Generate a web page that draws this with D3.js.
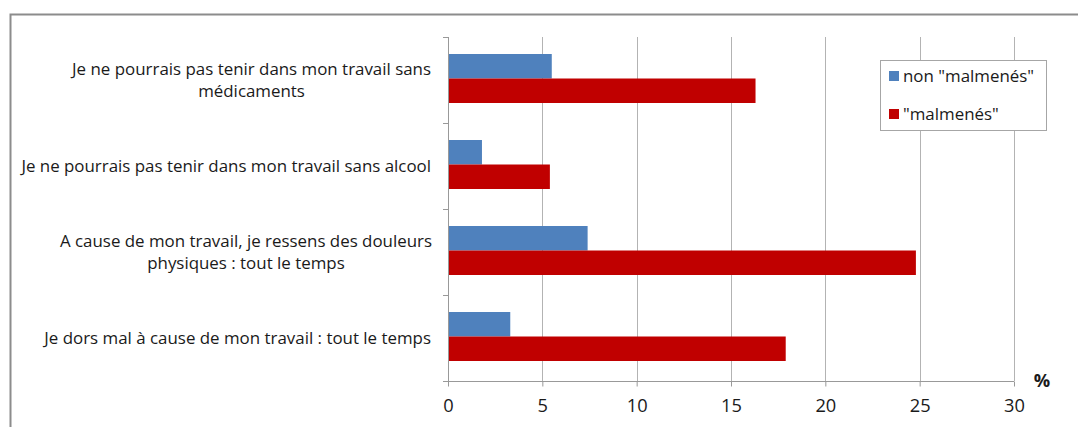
<!DOCTYPE html>
<html>
<head>
<meta charset="utf-8">
<script src="https://cdn.jsdelivr.net/npm/d3@7"></script>
<style>
  html, body { margin: 0; padding: 0; background: #fff; }
  svg { display: block; }
  text { font-family: "Open Sans", Lato, sans-serif; fill: #1a1a1a; }
</style>
</head>
<body>
<svg id="chart" width="1078" height="427"></svg>
<script>
// Categories, top to bottom
const categories = [
  ["Je ne pourrais pas tenir dans mon travail sans", "médicaments"],
  ["Je ne pourrais pas tenir dans mon travail sans alcool"],
  ["A cause de mon travail, je ressens des douleurs", "physiques : tout le temps"],
  ["Je dors mal à cause de mon travail : tout le temps"]
];
const seriesNames = ['non "malmenés"', '"malmenés"'];
const nonMalmenes = [5.5, 1.8, 7.4, 3.3];
const malmenes = [16.3, 5.4, 24.8, 17.9];
const xTicks = [0, 5, 10, 15, 20, 25, 30];
const colors = ["#4f81bd", "#c00000"];

const svg = d3.select("#chart");

// outer frame
svg.append("path")
  .attr("d", "M10.5,440 V14.5 H1078")
  .attr("fill", "none").attr("stroke", "#8c8c8c").attr("stroke-width", 2);

const plotLeft = 448, plotRight = 1014, plotTop = 37, plotBottom = 381;

const x = d3.scaleLinear().domain([0, 30]).range([plotLeft, plotRight]);
const y = d3.scaleBand().domain(d3.range(categories.length)).range([plotTop, plotBottom]);

// pick a font size so the longest one-line label spans ~410px
const probe = svg.append("text").attr("font-size", 20).text(categories[1][0]);
const fs = 20 * 410 / probe.node().getComputedTextLength();
probe.remove();

// vertical gridlines
svg.append("g").selectAll("line").data(xTicks.slice(1)).join("line")
  .attr("x1", d => Math.round(x(d)) + 0.5).attr("x2", d => Math.round(x(d)) + 0.5)
  .attr("y1", plotTop).attr("y2", plotBottom)
  .attr("stroke", "#b3b3b3").attr("stroke-width", 1);

// bars
const barH = 24.5;
const groups = svg.append("g").selectAll("g").data(categories.map((c, i) => i)).join("g");
groups.append("rect")
  .attr("x", x(0))
  .attr("y", i => y(i) + 17)
  .attr("width", i => x(nonMalmenes[i]) - x(0))
  .attr("height", barH)
  .attr("fill", colors[0]);
groups.append("rect")
  .attr("x", x(0))
  .attr("y", i => y(i) + 17 + barH)
  .attr("width", i => x(malmenes[i]) - x(0))
  .attr("height", barH)
  .attr("fill", colors[1]);

// x axis
const tickFs = fs * 1.08;
const xAxis = svg.append("g")
  .attr("transform", `translate(0,${plotBottom + 0.5})`)
  .call(d3.axisBottom(x).tickValues(xTicks).tickSize(5).tickPadding(13));
xAxis.select(".domain").attr("stroke", "#999").attr("d", `M${plotLeft},0H${plotRight}`);
xAxis.selectAll(".tick line").attr("stroke", "#999");
xAxis.selectAll(".tick text").attr("font-size", tickFs).attr("fill", "#1a1a1a")
  .style("font-family", "'Open Sans', Lato, sans-serif");

// y axis with category ticks at band boundaries
svg.append("line")
  .attr("x1", plotLeft + 0.5).attr("x2", plotLeft + 0.5)
  .attr("y1", plotTop).attr("y2", plotBottom)
  .attr("stroke", "#999");
svg.append("g").selectAll("line").data(d3.range(categories.length + 1)).join("line")
  .attr("x1", plotLeft - 5).attr("x2", plotLeft)
  .attr("y1", i => Math.round(plotTop + i * y.step()) + 0.5)
  .attr("y2", i => Math.round(plotTop + i * y.step()) + 0.5)
  .attr("stroke", "#999");

// category labels (centered lines, right aligned block)
categories.forEach((lines, i) => {
  const cy = y(i) + y.bandwidth() / 2;
  const lh = 22;
  const t = svg.append("text")
    .attr("font-size", fs)
    .attr("text-anchor", "middle");
  lines.forEach((ln, k) => {
    t.append("tspan").attr("x", 0)
      .attr("y", cy + (k - (lines.length - 1) / 2) * lh)
      .attr("dy", "0.35em").text(ln);
  });
  const w = t.node().getBBox().width;
  t.attr("transform", `translate(${432 - w / 2},0)`);
});

// axis unit
svg.append("text").attr("x", 1042).attr("y", 381).attr("dy", "0.35em")
  .attr("text-anchor", "middle").attr("font-size", tickFs).attr("font-weight", "bold")
  .text("%");

// legend
const lg = svg.append("g");
lg.append("rect").attr("x", 880.5).attr("y", 60.5).attr("width", 166).attr("height", 70)
  .attr("fill", "#fff").attr("stroke", "#a6a6a6");
seriesNames.forEach((n, k) => {
  const cy = 76 + k * 38;
  lg.append("rect").attr("x", 889).attr("y", cy - 5).attr("width", 10).attr("height", 10)
    .attr("fill", colors[k]);
  lg.append("text").attr("x", 903).attr("y", cy).attr("dy", "0.35em")
    .attr("font-size", fs).text(n);
});
</script>
</body>
</html>
